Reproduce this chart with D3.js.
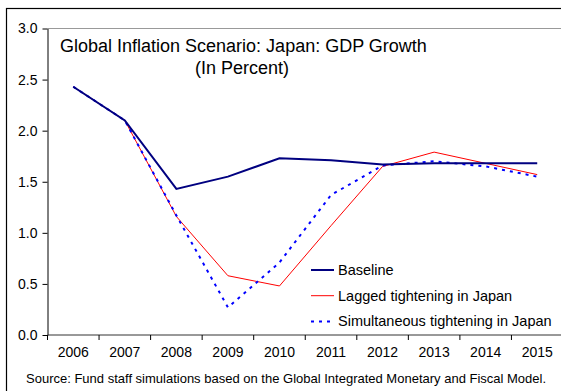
<!DOCTYPE html>
<html>
<head>
<meta charset="utf-8">
<script src="https://cdn.jsdelivr.net/npm/d3@7"></script>
<style>
  html, body { margin: 0; padding: 0; background: #fff; }
  svg { display: block; font-family: "Liberation Sans", Arial, sans-serif; }
</style>
</head>
<body>
<svg id="chart" width="561" height="391"></svg>
<script>
// GDP growth scenarios for Japan, in percent
const years = ["2006", "2007", "2008", "2009", "2010", "2011", "2012", "2013", "2014", "2015"];
const baseline = [2.43, 2.10, 1.43, 1.55, 1.73, 1.71, 1.67, 1.68, 1.68, 1.68];
const lagged = [2.43, 2.10, 1.16, 0.58, 0.48, 1.07, 1.65, 1.79, 1.68, 1.57];
const simultaneous = [2.43, 2.10, 1.17, 0.27, 0.71, 1.37, 1.66, 1.70, 1.65, 1.55];
const yTicks = [0.0, 0.5, 1.0, 1.5, 2.0, 2.5, 3.0];
const seriesNames = ["Baseline", "Lagged tightening in Japan", "Simultaneous tightening in Japan"];

const svg = d3.select("#chart");

// Outer frame (runs off the right edge)
svg.append("rect")
  .attr("x", 6.5).attr("y", 8.5)
  .attr("width", 600).attr("height", 420)
  .attr("fill", "none").attr("stroke", "#000").attr("stroke-width", 1.2);

const plot = { left: 47.5, top: 28.5, right: 563, bottom: 335 };

const x = d3.scaleBand().domain(years).range([plot.left, plot.right]);
const y = d3.scaleLinear().domain([0, 3]).range([plot.bottom, plot.top]);

// Plot-area top border
svg.append("line")
  .attr("x1", plot.left).attr("x2", 600)
  .attr("y1", plot.top).attr("y2", plot.top)
  .attr("stroke", "#999").attr("stroke-width", 1);

// Y axis
const yAxis = svg.append("g")
  .attr("transform", `translate(${plot.left},0)`)
  .call(d3.axisLeft(y).tickValues(yTicks).tickFormat(d3.format(".1f")).tickSize(5).tickSizeOuter(0));
yAxis.select(".domain").attr("stroke", "#000");
yAxis.selectAll("text").attr("font-size", 14).attr("fill", "#000").attr("dx", "-2");

// X axis: ticks sit on category boundaries
const xAxis = svg.append("g")
  .attr("transform", `translate(0,${plot.bottom})`)
  .call(d3.axisBottom(x).tickSize(0).tickSizeOuter(0));
xAxis.select(".domain").attr("stroke", "#333").attr("d", `M${plot.left},0H600`);
xAxis.selectAll("text").attr("font-size", 14).attr("fill", "#000").attr("dy", "1.35em");
xAxis.selectAll(".boundary")
  .data(years)
  .enter().append("line")
  .attr("class", "boundary")
  .attr("x1", d => x(d)).attr("x2", d => x(d))
  .attr("y1", 0).attr("y2", 5)
  .attr("stroke", "#000");

const line = d3.line()
  .x((d, i) => x(years[i]) + x.bandwidth() / 2)
  .y(d => y(d));

svg.append("path").datum(lagged)
  .attr("d", line).attr("fill", "none")
  .attr("stroke", "#ff0000").attr("stroke-width", 1);

svg.append("path").datum(simultaneous)
  .attr("d", line).attr("fill", "none")
  .attr("stroke", "#0000ff").attr("stroke-width", 2)
  .attr("stroke-dasharray", "3,5");

svg.append("path").datum(baseline)
  .attr("d", line).attr("fill", "none")
  .attr("stroke", "#000080").attr("stroke-width", 2);

// Title
svg.append("text")
  .attr("x", 60).attr("y", 52)
  .attr("font-size", 18).attr("fill", "#000")
  .text("Global Inflation Scenario: Japan: GDP Growth");
svg.append("text")
  .attr("x", 242).attr("y", 74)
  .attr("text-anchor", "middle")
  .attr("font-size", 18).attr("fill", "#000")
  .text("(In Percent)");

// Legend
const legendStyles = [
  { color: "#000080", width: 2, dash: null },
  { color: "#ff0000", width: 1, dash: null },
  { color: "#0000ff", width: 2, dash: "3,5" }
];
const legend = svg.append("g");
seriesNames.forEach((name, i) => {
  const ly = 270 + i * 25.7;
  legend.append("line")
    .attr("x1", 311).attr("x2", 334)
    .attr("y1", ly).attr("y2", ly)
    .attr("stroke", legendStyles[i].color)
    .attr("stroke-width", legendStyles[i].width)
    .attr("stroke-dasharray", legendStyles[i].dash);
  legend.append("text")
    .attr("x", 338).attr("y", ly + 5)
    .attr("font-size", 14.5).attr("fill", "#000")
    .text(name);
});

// Source note
svg.append("text")
  .attr("x", 26).attr("y", 383)
  .attr("font-size", 13).attr("fill", "#000")
  .text("Source: Fund staff simulations based on the Global Integrated Monetary and Fiscal Model.");
</script>
</body>
</html>
